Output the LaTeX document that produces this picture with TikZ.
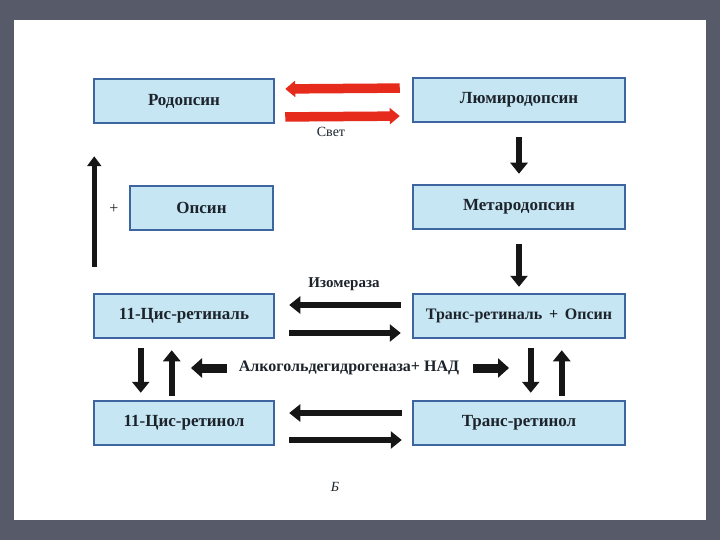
\documentclass[tikz,border=0pt]{standalone}
\usepackage{fontspec}
\setmainfont{Liberation Serif}
\usetikzlibrary{arrows.meta,calc}
\definecolor{slidebg}{HTML}{565A69}
\definecolor{boxfill}{HTML}{C6E6F4}
\definecolor{boxline}{HTML}{3D66A0}
\definecolor{txt}{HTML}{1C232B}
\definecolor{arrred}{HTML}{E62A1C}
\definecolor{arrblk}{HTML}{161616}
\tikzset{
  stagebox/.style={draw=boxline, line width=2.5pt, fill=boxfill, text=txt,
    minimum height=44pt, inner sep=0pt,
    font=\bfseries\fontsize{17}{17}\selectfont},
  leftbox/.style={stagebox, minimum width=180pt},
  rightbox/.style={stagebox, minimum width=212pt},
  blkarr/.style={draw=arrblk, line width=6.5pt,
    -{Triangle[length=11pt,width=17pt]}},
  redarr/.style={draw=arrred, line width=9.5pt,
    -{Triangle[length=10pt,width=16pt]}},
  lbl/.style={text=txt, inner sep=0pt, font=\bfseries\fontsize{15}{15}\selectfont},
}
\begin{document}
\begin{tikzpicture}[x=1pt,y=-1pt]
\useasboundingbox (0,0) rectangle (720,540);
\fill[slidebg] (0,0) rectangle (720,540);
\fill[white] (14,20) rectangle (706,520);

% boxes
\node[leftbox]  (rod) at (184,101) {Родопсин};
\node[rightbox] (lum) at (519,100) {Люмиродопсин};
\node[stagebox, minimum width=143pt] (ops) at (201.5,208) {Опсин};
\node[rightbox] (met) at (519,207) {Метародопсин};
\node[leftbox]  (cr)  at (184,316) {11-Цис-ретиналь};
\node[rightbox, font=\bfseries\fontsize{16}{16}\selectfont] (tr)  at (519,316) {Транс-ретиналь \,+\, Опсин};
\node[leftbox]  (cl)  at (184,423) {11-Цис-ретинол};
\node[rightbox] (tl)  at (519,423) {Транс-ретинол};

% light reaction
\draw[redarr, shorten <=12pt, shorten >=10pt] ([yshift=12pt]lum.west) -- ([yshift=12pt]rod.east);
\draw[redarr, shorten <=10pt, shorten >=12pt] ([yshift=-16pt]rod.east) -- ([yshift=-16pt]lum.west);
\node[lbl, font=\fontsize{14}{14}\selectfont] (svet) at (331,132) {Свет};

% right column downwards
\draw[blkarr, shorten <=14pt, shorten >=10pt] (lum.south) -- (met.north);
\draw[blkarr, shorten <=14pt, shorten >=6pt] (met.south) -- (tr.north);

% long arrow up to rhodopsin
\draw[blkarr, line width=5pt, -{Triangle[length=10pt,width=14pt]}, shorten <=26pt, shorten >=32pt]
  ([xshift=1.5pt]cr.north west) -- ([xshift=1.5pt]rod.south west);
\node[lbl, font=\fontsize{16}{16}\selectfont] (plus) at (114,209) {+};

% isomerase
\node[lbl] (iso) at (344,284) {Изомераза};
\draw[blkarr, shorten <=11pt, shorten >=14pt] ([yshift=11pt]tr.west) -- ([yshift=11pt]cr.east);
\draw[blkarr, shorten <=14pt, shorten >=11pt] ([yshift=-17pt]cr.east) -- ([yshift=-17pt]tr.west);

% dehydrogenase
\node[lbl, font=\bfseries\fontsize{16}{16}\selectfont] (alc) at (349,368) {Алкогольдегидрогеназа+ НАД};
\coordinate (alcL) at (191,368);
\coordinate (alcR) at (509,368);
\draw[blkarr, line width=9pt, -{Triangle[length=11pt,width=19pt]}, shorten <=12pt] (alc.west) -- (alcL);
\draw[blkarr, line width=9pt, -{Triangle[length=11pt,width=19pt]}, shorten <=14pt] (alc.east) -- (alcR);

% vertical pairs
\draw[blkarr, shorten <=9pt, shorten >=7pt] ($(cr.south west)+(48,0)$) -- ($(cl.north west)+(48,0)$);
\draw[blkarr, shorten <=4pt, shorten >=11pt] ($(cl.north west)+(79,0)$) -- ($(cr.south west)+(79,0)$);
\draw[blkarr, shorten <=9pt, shorten >=7pt] ($(tr.south west)+(119,0)$) -- ($(tl.north west)+(119,0)$);
\draw[blkarr, shorten <=4pt, shorten >=11pt] ($(tl.north west)+(150,0)$) -- ($(tr.south west)+(150,0)$);

% retinol interconversion
\draw[blkarr, shorten <=10pt, shorten >=14pt] ([yshift=10pt]tl.west) -- ([yshift=10pt]cl.east);
\draw[blkarr, shorten <=14pt, shorten >=10pt] ([yshift=-17pt]cl.east) -- ([yshift=-17pt]tl.west);

\node[lbl, font=\itshape\fontsize{14}{14}\selectfont] (b) at (335,487) {Б};
\end{tikzpicture}
\end{document}
